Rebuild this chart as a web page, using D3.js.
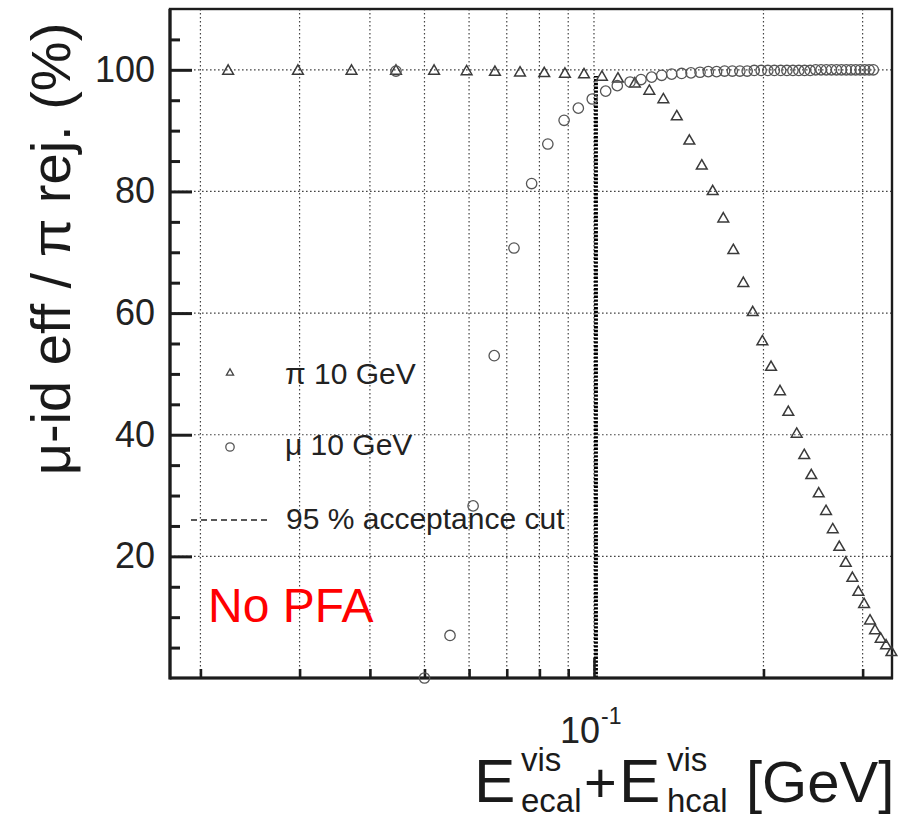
<!DOCTYPE html>
<html>
<head>
<meta charset="utf-8">
<script src="https://cdn.jsdelivr.net/npm/d3@7"></script>
<style>
  html, body { margin: 0; background: #fff; }
  svg { display: block; font-family: "Liberation Sans", Arial, Helvetica, sans-serif; }
</style>
</head>
<body>
<svg id="chart" width="906" height="820"></svg>
<script>
// Visible calorimeter energy (GeV) per bin and the pion rejection (%)
const pionE = [0.0224, 0.0298, 0.0371, 0.0445, 0.0520, 0.0594, 0.0667, 0.0739, 0.0816, 0.0888,
               0.0960, 0.1033, 0.1103, 0.1182, 0.1254, 0.1328, 0.1403, 0.1477, 0.1554, 0.1625,
               0.1697, 0.1768, 0.1842, 0.1914, 0.1991, 0.2063, 0.2140, 0.2214, 0.2291, 0.2363,
               0.2432, 0.2507, 0.2583, 0.2655, 0.2727, 0.2800, 0.2877, 0.2948, 0.3018, 0.3092,
               0.3156, 0.3230, 0.3302, 0.3375];
const pionRej = [99.8, 99.8, 99.8, 99.8, 99.8, 99.7, 99.6, 99.5, 99.4, 99.3,
                 99.2, 98.8, 98.5, 97.7, 96.5, 95.1, 92.3, 88.3, 84.2, 80.0,
                 75.5, 70.3, 64.9, 60.1, 55.3, 51.1, 47.1, 43.7, 40.1, 36.6,
                 33.3, 30.3, 27.4, 24.4, 21.5, 18.9, 16.4, 14.1, 12.1, 9.4,
                 7.8, 6.4, 5.3, 4.2];

// Muon identification efficiency (%) per bin
const muE = [0.0445, 0.0500, 0.0555, 0.0610, 0.0665, 0.0721, 0.0775, 0.0828, 0.0885, 0.0938,
             0.0993, 0.1049, 0.1100, 0.1159, 0.1212, 0.1266, 0.1319, 0.1374, 0.1431, 0.1487,
             0.1543, 0.1596, 0.1651, 0.1706, 0.1761, 0.1816, 0.1871, 0.1926, 0.1981, 0.2036,
             0.2091, 0.2146, 0.2201, 0.2256, 0.2311, 0.2366, 0.2421, 0.2476, 0.2531, 0.2586,
             0.2641, 0.2696, 0.2751, 0.2806, 0.2861, 0.2916, 0.2971, 0.3026, 0.3081, 0.3134];
const muEff = [99.8, 0.0, 7.0, 28.3, 53.0, 70.7, 81.3, 87.8, 91.7, 93.7,
               95.2, 96.5, 97.4, 98.0, 98.4, 98.8, 99.1, 99.3, 99.4, 99.5,
               99.6, 99.7, 99.7, 99.8, 99.8, 99.8, 99.8, 99.9, 99.9, 99.9,
               99.9, 99.9, 99.9, 99.9, 99.9, 99.9, 99.9, 100.0, 100.0, 100.0,
               100.0, 100.0, 100.0, 100.0, 100.0, 100.0, 100.0, 100.0, 100.0, 100.0];

// 95 % muon acceptance cut and its vertical extent
const cutE = 0.1008;
const cutTop = 99;

// Axis ticks
const xDomain = [0.01766, 0.3383];
const yDomain = [0, 110];
const xMajor = [0.1];
const xMinor = [0.02, 0.03, 0.04, 0.05, 0.06, 0.07, 0.08, 0.09, 0.2, 0.3];
const yMajor = [20, 40, 60, 80, 100];
const yMinor = [5, 10, 15, 25, 30, 35, 45, 50, 55, 65, 70, 75, 85, 90, 95, 105];

const frame = { left: 170, right: 892, top: 9, bottom: 678 };
const svg = d3.select("#chart");

const x = d3.scaleLog().domain(xDomain).range([frame.left, frame.right]);
const y = d3.scaleLinear().domain(yDomain).range([frame.bottom, frame.top]);

const ink = "#1c1c1c";

// Grid
const grid = svg.append("g").attr("stroke", "#444").attr("stroke-width", 1.2)
  .attr("stroke-dasharray", "1.6,2.4").attr("fill", "none");
grid.selectAll("line.gx").data(xMajor.concat(xMinor)).join("line")
  .attr("class", "gx")
  .attr("x1", d => x(d)).attr("x2", d => x(d))
  .attr("y1", frame.top).attr("y2", frame.bottom);
grid.selectAll("line.gy").data(yMajor).join("line")
  .attr("class", "gy")
  .attr("x1", frame.left).attr("x2", frame.right)
  .attr("y1", d => y(d)).attr("y2", d => y(d));

// Acceptance cut
svg.append("line")
  .attr("x1", x(cutE)).attr("x2", x(cutE))
  .attr("y1", y(0)).attr("y2", y(cutTop))
  .attr("stroke", "#000").attr("stroke-width", 4)
  .attr("stroke-dasharray", "2.4,1.4");

// Axes (ticks pointing into the frame)
function styleAxis(g, w) {
  g.select(".domain").remove();
  g.selectAll(".tick line").attr("stroke", ink).attr("stroke-width", w);
}
svg.append("g").attr("transform", `translate(0,${frame.bottom})`)
  .call(d3.axisBottom(x).tickValues(xMinor).tickSize(-9).tickFormat(() => ""))
  .call(g => styleAxis(g, 2.6));
svg.append("g").attr("transform", `translate(0,${frame.bottom})`)
  .call(d3.axisBottom(x).tickValues(xMajor).tickSize(-20).tickFormat(() => ""))
  .call(g => styleAxis(g, 2.6));
svg.append("g").attr("transform", `translate(${frame.left},0)`)
  .call(d3.axisLeft(y).tickValues(yMinor).tickSize(-10).tickFormat(() => ""))
  .call(g => styleAxis(g, 3));
const yAx = svg.append("g").attr("transform", `translate(${frame.left},0)`)
  .call(d3.axisLeft(y).tickValues(yMajor).tickSize(-22).tickPadding(15).tickFormat(d3.format("d")))
  .call(g => styleAxis(g, 3));
yAx.selectAll(".tick text")
  .attr("font-size", 36).attr("fill", "#222")
  .attr("font-family", "'Liberation Sans', Arial, sans-serif");

// Frame
svg.append("rect")
  .attr("x", frame.left).attr("y", frame.top)
  .attr("width", frame.right - frame.left).attr("height", frame.bottom - frame.top)
  .attr("fill", "none").attr("stroke", ink).attr("stroke-width", 2.4);
svg.append("line").attr("x1", frame.left).attr("x2", frame.left)
  .attr("y1", frame.top).attr("y2", frame.bottom + 1.5)
  .attr("stroke", ink).attr("stroke-width", 3.2);
svg.append("line").attr("x1", frame.left).attr("x2", frame.right + 1)
  .attr("y1", frame.bottom).attr("y2", frame.bottom)
  .attr("stroke", ink).attr("stroke-width", 3);

// Markers
const tri = d3.symbol(d3.symbolTriangle, 50);
const pts = svg.append("g");
pts.selectAll("path.pi").data(pionE.map((e, i) => [e, pionRej[i]])).join("path")
  .attr("class", "pi")
  .attr("d", tri)
  .attr("transform", d => `translate(${x(d[0])},${y(d[1])})`)
  .attr("fill", "none").attr("stroke", "#3a3a3a").attr("stroke-width", 1.5);
pts.selectAll("circle.mu").data(muE.map((e, i) => [e, muEff[i]])).join("circle")
  .attr("class", "mu")
  .attr("cx", d => x(d[0])).attr("cy", d => y(d[1])).attr("r", 5.2)
  .attr("fill", "none").attr("stroke", "#555").attr("stroke-width", 1.3);

// Legend
const leg = svg.append("g").attr("fill", "#222").attr("font-size", 30);
leg.append("path").attr("d", d3.symbol(d3.symbolTriangle, 22))
  .attr("transform", "translate(230,373)")
  .attr("fill", "none").attr("stroke", "#444").attr("stroke-width", 1.3);
leg.append("text").attr("x", 285).attr("y", 384).text("π 10 GeV");
leg.append("circle").attr("cx", 230).attr("cy", 447).attr("r", 4.2)
  .attr("fill", "none").attr("stroke", "#555").attr("stroke-width", 1.3);
leg.append("text").attr("x", 285).attr("y", 455).text("μ 10 GeV");
leg.append("line").attr("x1", 191).attr("x2", 268).attr("y1", 520).attr("y2", 520)
  .attr("stroke", "#222").attr("stroke-width", 1.6).attr("stroke-dasharray", "6,4");
leg.append("text").attr("x", 286).attr("y", 529).text("95 % acceptance cut");

// Annotation
svg.append("text").attr("x", 208).attr("y", 622)
  .attr("font-size", 48).attr("fill", "#ff0000").text("No PFA");

// x tick label 10^-1
const xl = svg.append("g").attr("fill", "#222");
xl.append("text").attr("x", x(0.1) + 6).attr("y", 743).attr("text-anchor", "end")
  .attr("font-size", 36).text("10");
xl.append("text").attr("x", x(0.1) + 7).attr("y", 724)
  .attr("font-size", 23).text("-1");

// x title: E^vis_ecal + E^vis_hcal [GeV]
const xt = svg.append("g").attr("fill", "#1a1a1a");
xt.append("text").attr("x", 474).attr("y", 802).attr("font-size", 62).text("E");
xt.append("text").attr("x", 521).attr("y", 771).attr("font-size", 33).text("vis");
xt.append("text").attr("x", 521).attr("y", 812).attr("font-size", 33).text("ecal");
xt.append("text").attr("x", 584).attr("y", 802).attr("font-size", 56).text("+");
xt.append("text").attr("x", 619).attr("y", 802).attr("font-size", 62).text("E");
xt.append("text").attr("x", 667).attr("y", 771).attr("font-size", 33).text("vis");
xt.append("text").attr("x", 667).attr("y", 812).attr("font-size", 33).text("hcal");
xt.append("text").attr("x", 746).attr("y", 802).attr("font-size", 58).text("[GeV]");

// y title
svg.append("text")
  .attr("transform", "translate(70,249) rotate(-90)")
  .attr("text-anchor", "middle").attr("font-size", 56).attr("fill", "#1a1a1a")
  .text("μ-id eff / π rej. (%)");
</script>
</body>
</html>
